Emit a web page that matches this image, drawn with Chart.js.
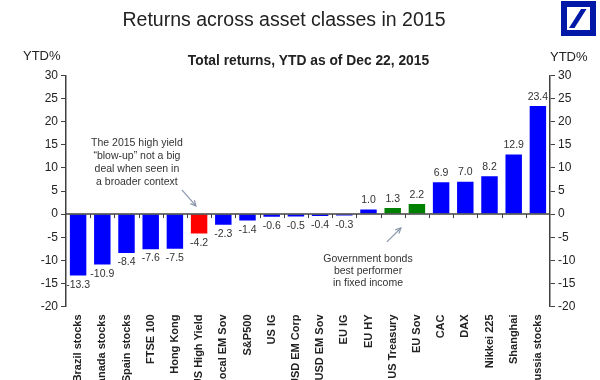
<!DOCTYPE html>
<html><head><meta charset="utf-8">
<script src="https://cdn.jsdelivr.net/npm/chart.js@4"></script>
<style>html,body{margin:0;padding:0;overflow:hidden;background:#fff}#wrap{width:600px;height:400px;position:relative}</style>
</head><body><div id="wrap"><canvas id="c" width="600" height="400"></canvas></div>
<script>
const categories = ["Brazil stocks","Canada stocks","Spain stocks","FTSE 100","Hong Kong","US High Yield","Local EM Sov","S&P500","US IG","USD EM Corp","USD EM Sov","EU IG","EU HY","US Treasury","EU Sov","CAC","DAX","Nikkei 225","Shanghai","Russia stocks"];
const values = [-13.3,-10.9,-8.4,-7.6,-7.5,-4.2,-2.3,-1.4,-0.6,-0.5,-0.4,-0.3,1.0,1.3,2.2,6.9,7.0,8.2,12.9,23.4];
const groups = ["b","b","b","b","b","r","b","b","b","b","b","b","b","g","g","b","b","b","b","b"];
const groupColors = {b:"#0000ff", r:"#ff0000", g:"#008000"};
const yTickValues = [-20,-15,-10,-5,0,5,10,15,20,25,30];
const titleText = "Returns across asset classes in 2015";
const subtitleText = "Total returns, YTD as of Dec 22, 2015";
const axisUnit = "YTD%";
const note1 = ["The 2015 high yield","\u201cblow-up\u201d not a big","deal when seen in","a broader context"];
const note2 = ["Government bonds","best performer","in fixed income"];

const FONT = "Arial, 'Liberation Sans', sans-serif";
const AX = "#404040";

function arrow(ctx, x1, y1, x2, y2) {
  ctx.save();
  ctx.strokeStyle = "#8a97ab";
  ctx.lineWidth = 1.2;
  ctx.beginPath(); ctx.moveTo(x1, y1); ctx.lineTo(x2, y2); ctx.stroke();
  const a = Math.atan2(y2 - y1, x2 - x1), L = 6;
  ctx.beginPath();
  ctx.moveTo(x2 - L * Math.cos(a - 0.45), y2 - L * Math.sin(a - 0.45));
  ctx.lineTo(x2, y2);
  ctx.lineTo(x2 - L * Math.cos(a + 0.45), y2 - L * Math.sin(a + 0.45));
  ctx.stroke();
  ctx.restore();
}

const deco = {
  id: "deco",
  afterDatasetsDraw(chart) {
    const ctx = chart.ctx, xs = chart.scales.x, ys = chart.scales.y, ca = chart.chartArea;
    const y0 = ys.getPixelForValue(0);
    ctx.save();
    ctx.strokeStyle = AX; ctx.lineWidth = 1.5;
    ctx.beginPath(); ctx.moveTo(ca.left, y0); ctx.lineTo(ca.right, y0); ctx.stroke();
    ctx.lineWidth = 1;
    for (let i = 1; i < categories.length; i++) {
      const x = Math.round((xs.getPixelForValue(i - 1) + xs.getPixelForValue(i)) / 2) + 0.5;
      ctx.beginPath(); ctx.moveTo(x, y0); ctx.lineTo(x, y0 + 4); ctx.stroke();
    }
    // value labels
    ctx.fillStyle = "#333"; ctx.font = "10.5px " + FONT; ctx.textAlign = "center";
    chart.getDatasetMeta(0).data.forEach((bar, i) => {
      const v = values[i];
      if (v >= 0) { ctx.textBaseline = "bottom"; ctx.fillText(v.toFixed(1), bar.x, bar.y - 4); }
      else { ctx.textBaseline = "top"; ctx.fillText(v.toFixed(1), bar.x, bar.y + 4); }
    });
    ctx.restore();
  },
  afterDraw(chart) {
    const ctx = chart.ctx, xs = chart.scales.x, ys = chart.scales.y;
    ctx.save();
    ctx.fillStyle = "#222"; ctx.textBaseline = "middle"; ctx.textAlign = "center";
    ctx.font = "19.5px " + FONT;
    ctx.fillText(titleText, 284, 21);
    ctx.font = "bold 13.8px " + FONT;
    ctx.fillText(subtitleText, 308.5, 61);
    ctx.font = "13px " + FONT;
    ctx.textAlign = "left";
    ctx.fillText(axisUnit, 23, 56);
    ctx.fillText(axisUnit, 550, 57);
    // notes
    ctx.fillStyle = "#333"; ctx.font = "10.5px " + FONT; ctx.textAlign = "center";
    let nx = xs.getPixelForValue(2.43), ny = ys.getPixelForValue(15.4);
    note1.forEach((t, k) => ctx.fillText(t, nx, ny + k * 13));
    nx = xs.getPixelForValue(11.98); ny = ys.getPixelForValue(-9.7);
    note2.forEach((t, k) => ctx.fillText(t, nx, ny + k * 12));
    arrow(ctx, xs.getPixelForValue(4.29), ys.getPixelForValue(5.24), xs.getPixelForValue(4.87), ys.getPixelForValue(1.77));
    arrow(ctx, xs.getPixelForValue(12.76), ys.getPixelForValue(-6.0), xs.getPixelForValue(13.34), ys.getPixelForValue(-3.0));
    // logo
    ctx.fillStyle = "#0018a8"; ctx.fillRect(561, 1, 35, 35);
    ctx.fillStyle = "#fff"; ctx.fillRect(567, 7, 23, 23);
    ctx.fillStyle = "#0018a8";
    ctx.beginPath(); ctx.moveTo(569, 28); ctx.lineTo(574.5, 28); ctx.lineTo(586.5, 9); ctx.lineTo(581, 9); ctx.closePath(); ctx.fill();
    ctx.restore();
  }
};

const yAxisCommon = (pos, w) => ({
  position: pos, min: -20, max: 30,
  afterBuildTicks: s => { s.ticks = yTickValues.map(v => ({ value: v })); },
  afterFit: s => { s.width = w; },
  grid: { drawOnChartArea: false, drawTicks: true, tickLength: 5, color: AX, lineWidth: 1 },
  border: { display: true, color: AX, width: 1.5 },
  ticks: { padding: 3, color: "#222", font: { family: FONT, size: 12 } }
});

new Chart(document.getElementById("c"), {
  type: "bar",
  data: {
    labels: categories,
    datasets: [{
      data: values,
      backgroundColor: groups.map(g => groupColors[g]),
      borderWidth: 0,
      barPercentage: 0.68,
      categoryPercentage: 1.0,
      yAxisID: "y"
    }]
  },
  options: {
    responsive: false, animation: false, devicePixelRatio: 1,
    layout: { padding: { top: 75.5, left: 0, right: 0, bottom: 0 } },
    plugins: { legend: { display: false }, tooltip: { enabled: false }, title: { display: false } },
    scales: {
      x: {
        grid: { display: false, drawTicks: false },
        border: { display: false },
        afterFit: s => { s.height = 93.5; },
        ticks: { minRotation: 90, maxRotation: 90, autoSkip: false, padding: 8, color: "#222", font: { family: FONT, size: 11, weight: "bold" } }
      },
      y: yAxisCommon("left", 66),
      y2: yAxisCommon("right", 50)
    }
  },
  plugins: [deco]
});
</script></body></html>
